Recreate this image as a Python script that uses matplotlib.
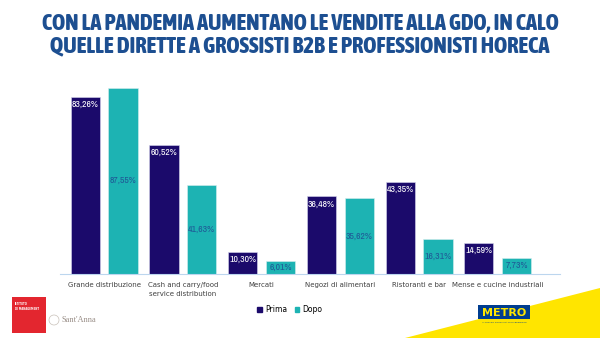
import matplotlib
matplotlib.use('Agg')
import matplotlib.pyplot as plt
import matplotlib.patches as mpatches
from matplotlib import font_manager
import numpy as np

# Data
categories = ['Grande distribuzione', 'Cash and carry/food\nservice distribution', 'Mercati',
              'Negozi di alimentari', 'Ristoranti e bar', 'Mense e cucine industriali']
prima = [83.26, 60.52, 10.30, 36.48, 43.35, 14.59]
dopo = [87.55, 41.63, 6.01, 35.62, 16.31, 7.73]

PRIMA_COLOR = '#1b0a6b'
DOPO_COLOR = '#1db3b3'
TITLE_COLOR = '#1d4f91'
W, H = 600, 338

# Look for a narrow font on the system (bold cut if there is one), else use Roboto
fonts = font_manager.fontManager.ttflist
narrow = sorted({f.name for f in fonts if 'Narrow' in f.name or 'Condensed' in f.name})
narrow_bold = sorted({f.name for f in fonts
                      if ('Narrow' in f.name or 'Condensed' in f.name)
                      and (f.weight in ('bold', 700, 800, 900) or
                           (isinstance(f.weight, int) and f.weight >= 600))})
title_font = narrow_bold[0] if narrow_bold else (narrow[0] if narrow else 'Roboto')
label_font = narrow[0] if narrow else 'Roboto'

fig = plt.figure(figsize=(6, 3.38), dpi=100)
fig.patch.set_facecolor('white')
renderer = fig.canvas.get_renderer()

# Title, shrunk so each line fits the reference width
lines = ['CON LA PANDEMIA AUMENTANO LE VENDITE ALLA GDO, IN CALO',
         'QUELLE DIRETTE A GROSSISTI B2B E PROFESSIONISTI HORECA']
for line, y, target in zip(lines, [24, 47], [516, 500]):
    t = fig.text(0.5, 1 - y / H, line, ha='center', va='center', fontsize=14.5,
                 fontweight='heavy', color=TITLE_COLOR, family=title_font)
    wpx = t.get_window_extent(renderer).width
    t.set_fontsize(14.5 * target / wpx)

# Chart area
ax = fig.add_axes([60 / W, 1 - 274 / H, 500 / W, 213 / H])
x = np.arange(len(categories))
width = 0.37
off = 0.24
b1 = ax.bar(x - off, prima, width, color=PRIMA_COLOR, edgecolor='#d8d8ee', linewidth=0.4)
b2 = ax.bar(x + off, dopo, width, color=DOPO_COLOR, edgecolor='#d8eeee', linewidth=0.4)

for rect, v in zip(b1, prima):
    ax.text(rect.get_x() + rect.get_width() / 2, v - 1.5, '{:.2f}%'.format(v).replace('.', ','),
            ha='center', va='top', fontsize=7, color='white', family=label_font)
for rect, v in zip(b2, dopo):
    ax.text(rect.get_x() + rect.get_width() / 2, v / 2, '{:.2f}%'.format(v).replace('.', ','),
            ha='center', va='center', fontsize=7, color='#1f5a96', family=label_font)

ax.set_xlim(-0.56, 5.79)
ax.set_ylim(0, 100)
ax.set_xticks(x)
ax.set_xticklabels(categories, fontsize=5, color='#404040', linespacing=1.5)
ax.tick_params(axis='x', length=0, pad=6)
ax.set_yticks([])
for side in ['top', 'right', 'left']:
    ax.spines[side].set_visible(False)
ax.spines['bottom'].set_color('#bcd6ee')
ax.spines['bottom'].set_linewidth(0.8)

# Legend
handles = [mpatches.Patch(color=PRIMA_COLOR, label='Prima'),
           mpatches.Patch(color=DOPO_COLOR, label='Dopo')]
fig.legend(handles=handles, loc='center', bbox_to_anchor=(290 / W, 1 - 310 / H), ncol=2,
           frameon=False, fontsize=5.5, handlelength=0.6, handleheight=0.6,
           handletextpad=0.4, columnspacing=1.0)

# Decorations: logos and yellow corner
deco = fig.add_axes([0, 0, 1, 1], zorder=-1)
deco.set_xlim(0, W)
deco.set_ylim(H, 0)
deco.axis('off')
deco.add_patch(mpatches.Polygon([(405, H), (W, 288), (W, H)], closed=True, color='#ffe500', lw=0))
deco.add_patch(mpatches.Rectangle((12, 297), 34, 36, color='#e3262f', lw=0))
deco.text(15, 302, 'ISTITUTO\nDI MANAGEMENT', fontsize=1.8, color='white', va='top', fontweight='bold')
deco.add_patch(mpatches.Circle((54, 320), 5, fill=False, ec='#c8c0b8', lw=0.5))
deco.text(61, 320, "Sant'Anna", fontsize=6, color='#9a8f88', va='center', family='Liberation Serif')
deco.add_patch(mpatches.Rectangle((478, 305), 52, 14, color='#003d8f', lw=0))
deco.text(504, 312.5, 'METRO', fontsize=8, color='#ffe500', ha='center', va='center', fontweight='bold')
deco.text(504, 322, 'IL VOSTRO GROSSISTA DI RIFERIMENTO', fontsize=1.6, color='#003d8f',
          ha='center', va='center')

fig.savefig('out.png', dpi=100)
